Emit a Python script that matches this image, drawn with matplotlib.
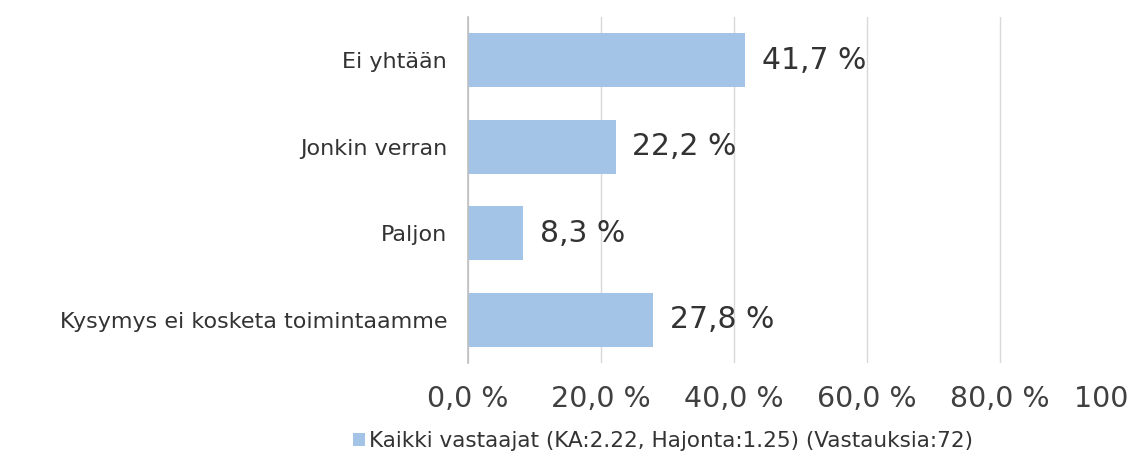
import matplotlib
matplotlib.use("Agg")
import matplotlib.pyplot as plt
from matplotlib.patches import Patch

categories = ["Ei yhtään", "Jonkin verran", "Paljon", "Kysymys ei kosketa toimintaamme"]
values = [41.7, 22.2, 8.3, 27.8]
xticks = [0, 20, 40, 60, 80, 100]
xtick_labels = ["0,0 %", "20,0 %", "40,0 %", "60,0 %", "80,0 %", "100,0 %"]
legend_label = "Kaikki vastaajat (KA:2.22, Hajonta:1.25) (Vastauksia:72)"

bar_color = "#A3C4E6"
text_color = "#333333"

plt.rcParams["font.family"] = ["DejaVu Sans"]

fig = plt.figure(figsize=(11.3, 4.61), dpi=100)
ax = fig.add_axes([468 / 1130, 1 - 363 / 461, 665 / 1130, 346 / 461])

ypos = list(range(len(categories)))
bars = ax.barh(ypos, values, height=0.625, color=bar_color, zorder=2)
ax.set_ylim(len(categories) - 0.5, -0.5)
ax.set_xlim(0, 100)

ax.set_yticks(ypos)
ax.set_yticklabels(categories, fontsize=16, color=text_color)
ax.set_xticks(xticks)
ax.set_xticklabels(xtick_labels, fontsize=20.5, color="#404040")
ax.tick_params(axis="y", length=0, pad=15)
ax.tick_params(axis="x", length=0, pad=16)

ax.grid(axis="x", color="#D9D9D9", linewidth=1, zorder=0)
for side in ["top", "right", "bottom"]:
    ax.spines[side].set_visible(False)
ax.spines["left"].set_color("#BFBFBF")
ax.spines["left"].set_linewidth(1.2)
ax.spines["left"].set_zorder(3)

for bar, v in zip(bars, values):
    ax.annotate(f"{v:.1f} %".replace(".", ","),
                xy=(bar.get_width(), bar.get_y() + bar.get_height() / 2),
                xytext=(12, 0), textcoords="offset points",
                va="center", ha="left", fontsize=21.5, color=text_color)

handle = Patch(facecolor=bar_color, edgecolor="none")
fig.legend([handle], [legend_label], loc="center",
           bbox_to_anchor=(663 / 1130, 1 - 441 / 461), frameon=False,
           fontsize=15.5, handlelength=0.55, handleheight=0.55, handletextpad=0.15,
           labelcolor=text_color)

fig.savefig("out.png", dpi=100, facecolor="white")
